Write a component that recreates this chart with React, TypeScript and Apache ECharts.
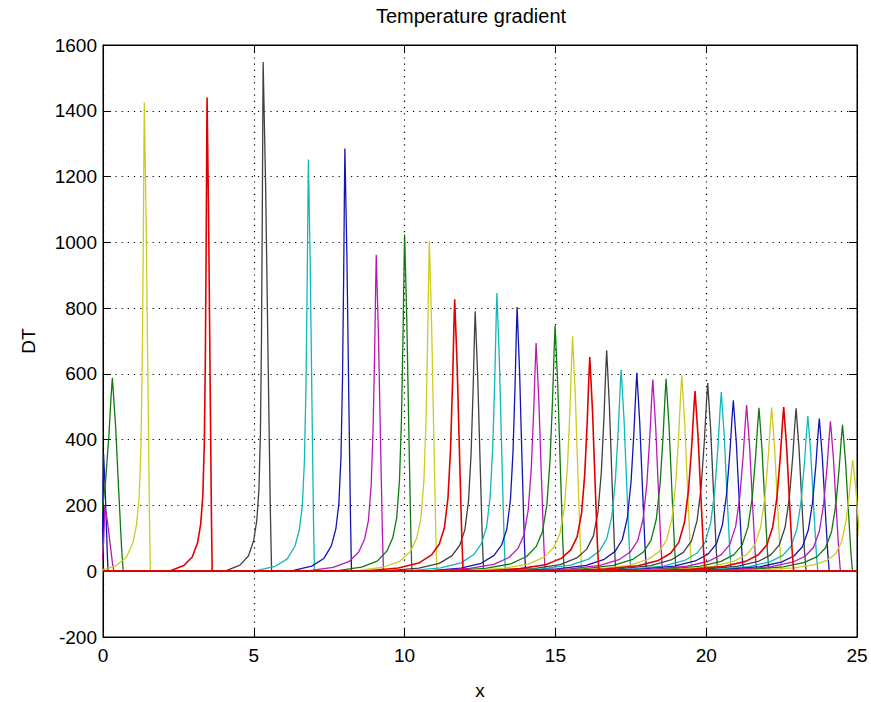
import { useEffect, useRef } from 'react';
import * as echarts from 'echarts';

// ---- data ----
const X_MIN = 0;
const X_MAX = 25;
const X_INTERVAL = 5;
const Y_MIN = -200;
const Y_MAX = 1600;
const Y_INTERVAL = 200;

// peak position (x), peak height (DT), left width, right width, colour key
const peakX = [0.02, 0.06, 0.31, 1.37, 3.45, 5.31, 6.81, 8.02, 9.06, 10.0, 10.82, 11.66, 12.34, 13.06, 13.73, 14.36, 14.99, 15.57, 16.14, 16.7, 17.18, 17.7, 18.23, 18.67, 19.19, 19.63, 20.05, 20.5, 20.9, 21.34, 21.75, 22.17, 22.57, 22.98, 23.37, 23.75, 24.12, 24.52, 24.86];
const peakH = [355, 200, 588, 1425, 1440, 1548, 1252, 1285, 962, 1024, 1005, 827, 790, 846, 803, 694, 747, 714, 651, 672, 613, 603, 583, 585, 596, 548, 572, 545, 520, 505, 497, 498, 499, 495, 472, 464, 456, 445, 338];
const leftW = [0.04, 0.05, 0.29, 0.085, 0.07, 0.07, 0.1, 0.1, 0.13, 0.13, 0.14, 0.17, 0.17, 0.17, 0.17, 0.2, 0.21, 0.21, 0.21, 0.22, 0.24, 0.24, 0.25, 0.25, 0.25, 0.27, 0.27, 0.27, 0.28, 0.28, 0.28, 0.28, 0.28, 0.28, 0.28, 0.28, 0.28, 0.28, 0.28];
const rightW = [0.15, 0.3, 0.36, 0.2, 0.17, 0.28, 0.2, 0.22, 0.24, 0.24, 0.25, 0.28, 0.28, 0.28, 0.28, 0.3, 0.3, 0.3, 0.3, 0.3, 0.32, 0.32, 0.32, 0.33, 0.33, 0.33, 0.33, 0.33, 0.33, 0.33, 0.33, 0.33, 0.33, 0.33, 0.33, 0.33, 0.33, 0.33, 0.33];
const colorKeys = ['b', 'm', 'g', 'y', 'r', 'k', 'c', 'b', 'm', 'g', 'y', 'r', 'k', 'c', 'b', 'm', 'g', 'y', 'r', 'k', 'c', 'b', 'm', 'g', 'y', 'r', 'k', 'c', 'b', 'm', 'g', 'y', 'r', 'k', 'c', 'b', 'm', 'g', 'y'];

// spike profile read from the well separated peaks (offset in widths, fraction of peak)
const LEFT_T = [-18, -11, -7, -4.5, -3, -2, -1.3, -0.8, -0.4, -0.15, 0];
const LEFT_F = [0, 0.012, 0.03, 0.06, 0.1, 0.16, 0.27, 0.45, 0.7, 0.9, 1];
const RIGHT_T = [0.3, 0.6, 0.85, 1];
const RIGHT_F = [0.75, 0.4, 0.12, 0];

const PALETTE: Record<string, string> = {
  b: '#1414b4',
  g: '#107a10',
  r: '#e00000',
  c: '#10b8b8',
  m: '#b818b8',
  y: '#cccc20',
  k: '#404040',
};

const FONT = '"Liberation Sans", Arial, Helvetica, sans-serif';

function spike(i: number): number[][] {
  const x0 = peakX[i];
  const h = peakH[i];
  const w = leftW[i];
  const r = rightW[i];
  const pts: number[][] = [];
  if (x0 + LEFT_T[0] * w > X_MIN) pts.push([X_MIN, 0]);
  LEFT_T.forEach((t, k) => pts.push([x0 + t * w, LEFT_F[k] * h]));
  RIGHT_T.forEach((t, k) => pts.push([x0 + t * r, RIGHT_F[k] * h]));
  if (x0 + r < X_MAX) pts.push([X_MAX, 0]);
  return pts;
}

export default function App() {
  const ref = useRef<HTMLDivElement>(null);
  useEffect(() => {
    if (!ref.current) return;
    const chart = echarts.init(ref.current, null, { renderer: 'svg' });
    const series = peakX.map((_, i) => ({
      type: 'line',
      data: spike(i),
      showSymbol: false,
      symbol: 'none',
      clip: true,
      silent: true,
      z: colorKeys[i] === 'r' ? 3 : 2,
      lineStyle: { width: colorKeys[i] === 'r' ? 1.6 : 1.3, color: PALETTE[colorKeys[i]] },
      itemStyle: { color: PALETTE[colorKeys[i]] },
    }));
    const tickLabel = {
      color: '#000',
      fontSize: 19,
      fontFamily: FONT,
      formatter: (v: number) => String(v),
    };
    chart.setOption({
      animation: false,
      backgroundColor: '#fff',
      grid: {
        left: 103,
        right: 14,
        top: 45,
        bottom: 65,
        show: true,
        borderColor: '#000',
        borderWidth: 1,
        backgroundColor: '#fff',
        containLabel: false,
        outerBoundsMode: 'none',
      },
      xAxis: [
        {
          type: 'value',
          min: X_MIN,
          max: X_MAX,
          interval: X_INTERVAL,
          position: 'bottom',
          axisLine: { show: true, onZero: false, lineStyle: { color: '#000', width: 1 } },
          axisTick: { show: true, inside: true, length: 8, lineStyle: { color: '#000' } },
          axisLabel: { ...tickLabel, margin: 9 },
          splitLine: { show: true, lineStyle: { color: '#000', width: 1.2, type: [1.2, 5] } },
        },
        {
          type: 'value',
          min: X_MIN,
          max: X_MAX,
          interval: X_INTERVAL,
          position: 'top',
          axisLine: { show: true, onZero: false, lineStyle: { color: '#000', width: 1 } },
          axisTick: { show: true, inside: true, length: 8, lineStyle: { color: '#000' } },
          axisLabel: { show: false },
          splitLine: { show: false },
        },
      ],
      yAxis: [
        {
          type: 'value',
          min: Y_MIN,
          max: Y_MAX,
          interval: Y_INTERVAL,
          position: 'left',
          axisLine: { show: true, onZero: false, lineStyle: { color: '#000', width: 1 } },
          axisTick: { show: true, inside: true, length: 8, lineStyle: { color: '#000' } },
          axisLabel: { ...tickLabel, margin: 6 },
          splitLine: { show: true, lineStyle: { color: '#000', width: 1.2, type: [1.2, 5] } },
        },
        {
          type: 'value',
          min: Y_MIN,
          max: Y_MAX,
          interval: Y_INTERVAL,
          position: 'right',
          axisLine: { show: true, onZero: false, lineStyle: { color: '#000', width: 1 } },
          axisTick: { show: true, inside: true, length: 8, lineStyle: { color: '#000' } },
          axisLabel: { show: false },
          splitLine: { show: false },
        },
      ],
      graphic: [
        {
          type: 'text',
          x: 471,
          y: 16,
          style: {
            text: 'Temperature gradient',
            fill: '#000',
            font: `20px ${FONT}`,
            align: 'center',
            verticalAlign: 'middle',
            textAlign: 'center',
            textVerticalAlign: 'middle',
          },
        },
        {
          type: 'text',
          x: 28,
          y: 341,
          rotation: Math.PI / 2,
          style: {
            text: 'DT',
            fill: '#000',
            font: `19px ${FONT}`,
            align: 'center',
            verticalAlign: 'middle',
            textAlign: 'center',
            textVerticalAlign: 'middle',
          },
        },
        {
          type: 'text',
          x: 480,
          y: 690,
          style: {
            text: 'x',
            fill: '#000',
            font: `19px ${FONT}`,
            align: 'center',
            verticalAlign: 'middle',
            textAlign: 'center',
            textVerticalAlign: 'middle',
          },
        },
      ],
      series,
    });
    return () => chart.dispose();
  }, []);
  return (
    <div
      ref={ref}
      style={{ position: 'absolute', left: 0, top: 0, width: 871, height: 702, background: '#fff' }}
    />
  );
}
